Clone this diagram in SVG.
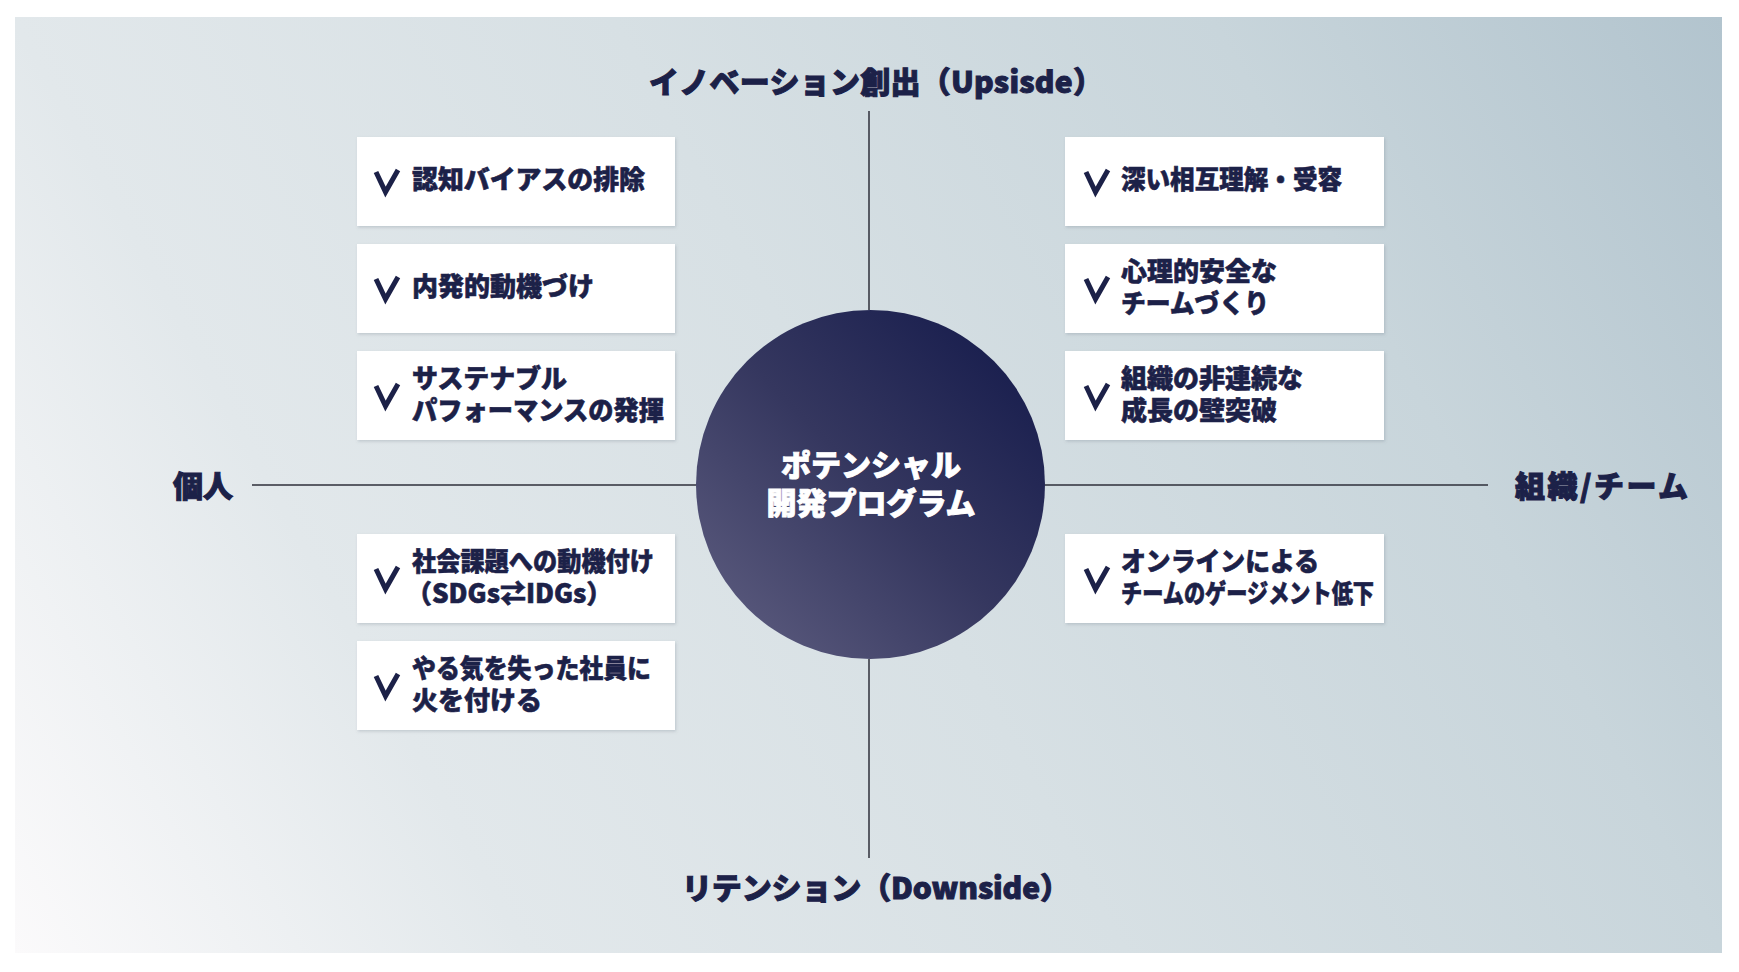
<svg xmlns="http://www.w3.org/2000/svg" xmlns:xlink="http://www.w3.org/1999/xlink" width="1739" height="972" viewBox="0 0 1739 972">
<defs>
<linearGradient id="bg" gradientUnits="userSpaceOnUse" x1="15" y1="953" x2="1722" y2="17">
<stop offset="0" stop-color="#fbfafb"/>
<stop offset="0.23" stop-color="#e2e8eb"/>
<stop offset="0.5" stop-color="#d7e0e4"/>
<stop offset="0.77" stop-color="#c8d5db"/>
<stop offset="1" stop-color="#b2c4ce"/>
</linearGradient>
<linearGradient id="circ" x1="0.15" y1="0.85" x2="0.85" y2="0.15">
<stop offset="0" stop-color="#545478"/>
<stop offset="0.5" stop-color="#35375f"/>
<stop offset="1" stop-color="#1c2150"/>
</linearGradient>
<filter id="sh" x="-5%" y="-10%" width="110%" height="125%">
<feDropShadow dx="1" dy="1.5" stdDeviation="1.5" flood-color="#5a6a78" flood-opacity="0.25"/>
</filter>
<path id="chk" d="M-11,-10 L-1.5,10 L11,-12"/>
<style>
.box{fill:#ffffff;filter:url(#sh);}
.ck{fill:none;stroke:#1c2148;stroke-width:5;stroke-linejoin:miter;}
.t{font-family:"Noto Sans CJK JP","Noto Sans CJK SC",sans-serif;font-weight:900;fill:#1c2148;stroke:#1c2148;stroke-width:0.6;font-size:26px;}
.lab{font-family:"Noto Sans CJK JP","Noto Sans CJK SC",sans-serif;font-weight:900;fill:#1c2148;stroke:#1c2148;stroke-width:1;font-size:30px;}
.ctr{font-family:"Noto Sans CJK JP","Noto Sans CJK SC",sans-serif;font-weight:900;fill:#ffffff;stroke:#ffffff;stroke-width:0.9;font-size:30px;text-anchor:middle;}
.ax{stroke:#2e2f3a;stroke-width:1.5;fill:none;}
</style>
</defs>
<rect x="0" y="0" width="1739" height="972" fill="#ffffff"/>
<rect x="15" y="17" width="1707" height="936" fill="url(#bg)"/>

<g id="connectors">
<line class="ax" x1="252" y1="485" x2="696" y2="485"/>
<line class="ax" x1="1045" y1="485" x2="1488" y2="485"/>
<line class="ax" x1="869" y1="111" x2="869" y2="310"/>
<line class="ax" x1="869" y1="659" x2="869" y2="858"/>
</g>

<g id="label-top"><text class="lab" x="876" y="93" text-anchor="middle" textLength="454" lengthAdjust="spacing">イノベーション創出（Upsisde）</text></g>
<g id="label-bottom"><text class="lab" x="876" y="899" text-anchor="middle" textLength="388" lengthAdjust="spacing">リテンション（Downside）</text></g>
<g id="label-left"><text class="lab" x="173" y="497">個人</text></g>
<g id="label-right"><text class="lab" x="1515" y="497" textLength="173" lengthAdjust="spacing">組織/チーム</text></g>

<g id="center">
<circle cx="870.5" cy="484.5" r="174.5" fill="url(#circ)"/>
<text class="ctr" x="871" y="476">ポテンシャル</text>
<text class="ctr" x="871" y="514">開発プログラム</text>
</g>

<g id="l1"><rect class="box" x="357" y="137" width="318" height="89"/><use href="#chk" class="ck" x="387" y="182"/><text class="t" x="412" y="189" textLength="233" lengthAdjust="spacingAndGlyphs">認知バイアスの排除</text></g>
<g id="l2"><rect class="box" x="357" y="244" width="318" height="89"/><use href="#chk" class="ck" x="387" y="289"/><text class="t" x="412" y="296">内発的動機づけ</text></g>
<g id="l3"><rect class="box" x="357" y="351" width="318" height="89"/><use href="#chk" class="ck" x="387" y="396"/><text class="t" x="412" y="388" textLength="155" lengthAdjust="spacingAndGlyphs">サステナブル</text><text class="t" x="412" y="420" textLength="252" lengthAdjust="spacingAndGlyphs">パフォーマンスの発揮</text></g>
<g id="l4"><rect class="box" x="357" y="534" width="318" height="89"/><use href="#chk" class="ck" x="387" y="579"/><text class="t" x="412" y="571" textLength="242" lengthAdjust="spacingAndGlyphs">社会課題への動機付け</text><text class="t" x="406" y="603">（SDGs⇄IDGs）</text></g>
<g id="l5"><rect class="box" x="357" y="641" width="318" height="89"/><use href="#chk" class="ck" x="387" y="686"/><text class="t" x="412" y="678" textLength="239" lengthAdjust="spacingAndGlyphs">やる気を失った社員に</text><text class="t" x="412" y="710">火を付ける</text></g>

<g id="r1"><rect class="box" x="1065" y="137" width="319" height="89"/><use href="#chk" class="ck" x="1097" y="182"/><text class="t" x="1121" y="189" textLength="221" lengthAdjust="spacingAndGlyphs">深い相互理解・受容</text></g>
<g id="r2"><rect class="box" x="1065" y="244" width="319" height="89"/><use href="#chk" class="ck" x="1097" y="289"/><text class="t" x="1121" y="281">心理的安全な</text><text class="t" x="1121" y="313" textLength="148" lengthAdjust="spacingAndGlyphs">チームづくり</text></g>
<g id="r3"><rect class="box" x="1065" y="351" width="319" height="89"/><use href="#chk" class="ck" x="1097" y="396"/><text class="t" x="1121" y="388" textLength="182" lengthAdjust="spacingAndGlyphs">組織の非連続な</text><text class="t" x="1121" y="420">成長の壁突破</text></g>
<g id="r4"><rect class="box" x="1065" y="534" width="319" height="89"/><use href="#chk" class="ck" x="1097" y="579"/><text class="t" x="1121" y="571" textLength="198" lengthAdjust="spacingAndGlyphs">オンラインによる</text><text class="t" x="1121" y="603" textLength="253" lengthAdjust="spacingAndGlyphs">チームのゲージメント低下</text></g>
</svg>
